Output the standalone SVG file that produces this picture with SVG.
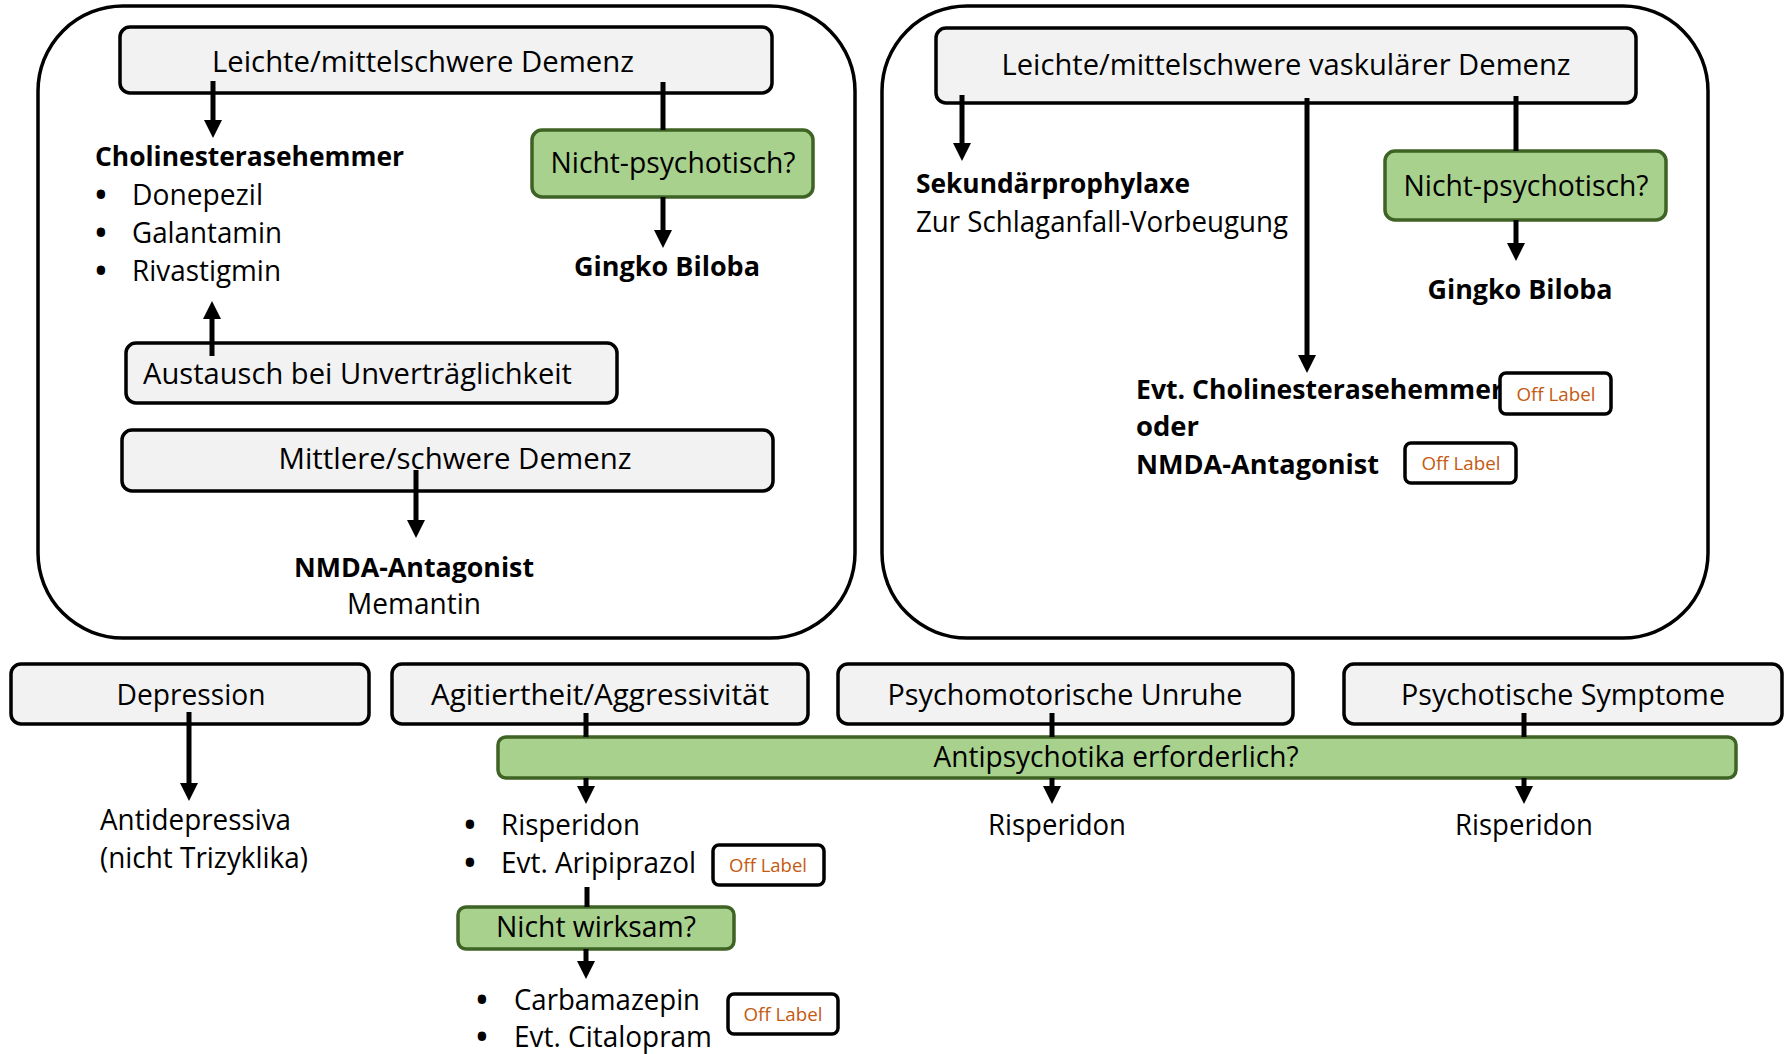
<svg xmlns="http://www.w3.org/2000/svg" width="1786" height="1054" viewBox="0 0 1786 1054">
<style>
text{font-family:"Open Sans","Noto Sans","Liberation Sans",sans-serif;font-size:29px;fill:#000}
.b{font-weight:700;font-size:26.5px}
.m{text-anchor:middle}
.bl{font-size:30px;font-weight:700;text-anchor:middle}
.panel{fill:#fff;stroke:#000;stroke-width:3.5}
.box{fill:#f2f2f2;stroke:#000;stroke-width:3.5}
.grn{fill:#a9d18e;stroke:#3e6324;stroke-width:3.5}
.off{fill:#fff;stroke:#000;stroke-width:3.5}
.ol{font-size:18px;fill:#c55a11;text-anchor:middle}
.c{stroke:#000;stroke-width:5;fill:none}
.a{marker-end:url(#ah)}
</style>
<defs>
<marker id="ah" markerUnits="userSpaceOnUse" markerWidth="18" markerHeight="18" refX="0" refY="8.5" orient="auto" viewBox="0 0 17 17">
<path d="M0,0 L17,8.5 L0,17 z" fill="#000"/>
</marker>
</defs>
<rect width="1786" height="1054" fill="#fff"/>
<g id="panel-left"><rect class="panel" x="38" y="6" width="817" height="632" rx="85"/></g>
<g id="panel-right"><rect class="panel" x="882" y="6" width="826" height="632" rx="85"/></g>

<g id="n-leicht"><rect class="box" x="120" y="27" width="652" height="66" rx="10"/><text class="m" x="423" y="72" textLength="422" lengthAdjust="spacingAndGlyphs">Leichte/mittelschwere Demenz</text></g>
<g id="n-nichtpsych1"><rect class="grn" x="532" y="130" width="281" height="67" rx="10"/><text class="m" x="673" y="173" textLength="245" lengthAdjust="spacingAndGlyphs">Nicht-psychotisch?</text></g>
<g id="n-gingko1"><text class="b m" x="667" y="276" textLength="186" lengthAdjust="spacingAndGlyphs">Gingko Biloba</text></g>
<g id="n-cholin"><text class="b" x="95" y="166" textLength="309" lengthAdjust="spacingAndGlyphs">Cholinesterasehemmer</text>
<text class="bl" x="101" y="205">•</text><text x="132" y="205" textLength="131" lengthAdjust="spacingAndGlyphs">Donepezil</text>
<text class="bl" x="101" y="243">•</text><text x="132" y="243" textLength="150" lengthAdjust="spacingAndGlyphs">Galantamin</text>
<text class="bl" x="101" y="281">•</text><text x="132" y="281" textLength="149" lengthAdjust="spacingAndGlyphs">Rivastigmin</text></g>
<g id="n-austausch"><rect class="box" x="126" y="343" width="491" height="60" rx="10"/><text x="143" y="384" textLength="429" lengthAdjust="spacingAndGlyphs">Austausch bei Unverträglichkeit</text></g>
<g id="n-mittlere"><rect class="box" x="122" y="430" width="651" height="61" rx="10"/><text class="m" x="455" y="469" textLength="353" lengthAdjust="spacingAndGlyphs">Mittlere/schwere Demenz</text></g>
<g id="n-nmda1"><text class="b m" x="414" y="577" textLength="240" lengthAdjust="spacingAndGlyphs">NMDA-Antagonist</text><text class="m" x="414" y="614" textLength="134" lengthAdjust="spacingAndGlyphs">Memantin</text></g>

<g id="n-vask"><rect class="box" x="936" y="28" width="700" height="75" rx="10"/><text class="m" x="1286" y="75" textLength="569" lengthAdjust="spacingAndGlyphs">Leichte/mittelschwere vaskulärer Demenz</text></g>
<g id="n-sek"><text class="b" x="916" y="193" textLength="274" lengthAdjust="spacingAndGlyphs">Sekundärprophylaxe</text><text x="916" y="232" textLength="372" lengthAdjust="spacingAndGlyphs">Zur Schlaganfall-Vorbeugung</text></g>
<g id="n-nichtpsych2"><rect class="grn" x="1385" y="151" width="281" height="69" rx="10"/><text class="m" x="1526" y="196" textLength="245" lengthAdjust="spacingAndGlyphs">Nicht-psychotisch?</text></g>
<g id="n-gingko2"><text class="b m" x="1520" y="299" textLength="185" lengthAdjust="spacingAndGlyphs">Gingko Biloba</text></g>
<g id="n-evt"><text class="b" x="1136" y="399" textLength="367" lengthAdjust="spacingAndGlyphs">Evt. Cholinesterasehemmer</text><text class="b" x="1136" y="436" textLength="63" lengthAdjust="spacingAndGlyphs">oder</text><text class="b" x="1136" y="474" textLength="243" lengthAdjust="spacingAndGlyphs">NMDA-Antagonist</text></g>
<g id="n-off1"><rect class="off" x="1500" y="373" width="111" height="41" rx="6"/><text class="ol" x="1556" y="401" textLength="79" lengthAdjust="spacingAndGlyphs">Off Label</text></g>
<g id="n-off2"><rect class="off" x="1405" y="443" width="111" height="40" rx="6"/><text class="ol" x="1461" y="470" textLength="79" lengthAdjust="spacingAndGlyphs">Off Label</text></g>

<g id="n-depression"><rect class="box" x="11" y="664" width="358" height="60" rx="10"/><text class="m" x="191" y="705" textLength="149" lengthAdjust="spacingAndGlyphs">Depression</text></g>
<g id="n-antidep"><text x="100" y="830" textLength="191" lengthAdjust="spacingAndGlyphs">Antidepressiva</text><text x="100" y="868" textLength="208" lengthAdjust="spacingAndGlyphs">(nicht Trizyklika)</text></g>
<g id="n-agit"><rect class="box" x="392" y="664" width="416" height="60" rx="10"/><text class="m" x="600" y="705" textLength="338" lengthAdjust="spacingAndGlyphs">Agitiertheit/Aggressivität</text></g>
<g id="n-psychomot"><rect class="box" x="838" y="664" width="455" height="60" rx="10"/><text class="m" x="1065" y="705" textLength="355" lengthAdjust="spacingAndGlyphs">Psychomotorische Unruhe</text></g>
<g id="n-psychot"><rect class="box" x="1344" y="664" width="438" height="60" rx="10"/><text class="m" x="1563" y="705" textLength="324" lengthAdjust="spacingAndGlyphs">Psychotische Symptome</text></g>
<g id="n-antipsych"><rect class="grn" x="498" y="737" width="1238" height="41" rx="8"/><text class="m" x="1116" y="767" textLength="365" lengthAdjust="spacingAndGlyphs">Antipsychotika erforderlich?</text></g>
<g id="n-risp1"><text class="bl" x="470" y="835">•</text><text x="501" y="835" textLength="139" lengthAdjust="spacingAndGlyphs">Risperidon</text>
<text class="bl" x="470" y="873">•</text><text x="501" y="873" textLength="195" lengthAdjust="spacingAndGlyphs">Evt. Aripiprazol</text></g>
<g id="n-off3"><rect class="off" x="713" y="845" width="111" height="40" rx="6"/><text class="ol" x="768" y="872" textLength="78" lengthAdjust="spacingAndGlyphs">Off Label</text></g>
<g id="n-nichtwirk"><rect class="grn" x="458" y="907" width="276" height="42" rx="8"/><text class="m" x="596" y="937" textLength="200" lengthAdjust="spacingAndGlyphs">Nicht wirksam?</text></g>
<g id="n-carba"><text class="bl" x="482" y="1010">•</text><text x="514" y="1010" textLength="186" lengthAdjust="spacingAndGlyphs">Carbamazepin</text>
<text class="bl" x="482" y="1047">•</text><text x="514" y="1047" textLength="198" lengthAdjust="spacingAndGlyphs">Evt. Citalopram</text></g>
<g id="n-off4"><rect class="off" x="728" y="994" width="110" height="40" rx="6"/><text class="ol" x="783" y="1021" textLength="79" lengthAdjust="spacingAndGlyphs">Off Label</text></g>
<g id="n-risp2"><text class="m" x="1057" y="835" textLength="138" lengthAdjust="spacingAndGlyphs">Risperidon</text></g>
<g id="n-risp3"><text class="m" x="1524" y="835" textLength="138" lengthAdjust="spacingAndGlyphs">Risperidon</text></g>

<g id="connectors">
<line class="c a" x1="213" y1="81" x2="213" y2="120"/>
<line class="c" x1="663" y1="82" x2="663" y2="130"/>
<line class="c a" x1="663" y1="197" x2="663" y2="230"/>
<line class="c a" x1="212" y1="356" x2="212" y2="319"/>
<line class="c a" x1="416" y1="470" x2="416" y2="520"/>
<line class="c a" x1="962" y1="95" x2="962" y2="143"/>
<line class="c a" x1="1307" y1="98" x2="1307" y2="355"/>
<line class="c" x1="1516" y1="96" x2="1516" y2="151"/>
<line class="c a" x1="1516" y1="220" x2="1516" y2="243"/>
<line class="c a" x1="189" y1="712" x2="189" y2="783"/>
<line class="c" x1="586" y1="713" x2="586" y2="737"/>
<line class="c" x1="1052" y1="713" x2="1052" y2="737"/>
<line class="c" x1="1524" y1="713" x2="1524" y2="737"/>
<line class="c a" x1="586" y1="778" x2="586" y2="786"/>
<line class="c a" x1="1052" y1="778" x2="1052" y2="786"/>
<line class="c a" x1="1524" y1="778" x2="1524" y2="786"/>
<line class="c" x1="587" y1="887" x2="587" y2="907"/>
<line class="c a" x1="586" y1="949" x2="586" y2="961"/>
</g>
</svg>
